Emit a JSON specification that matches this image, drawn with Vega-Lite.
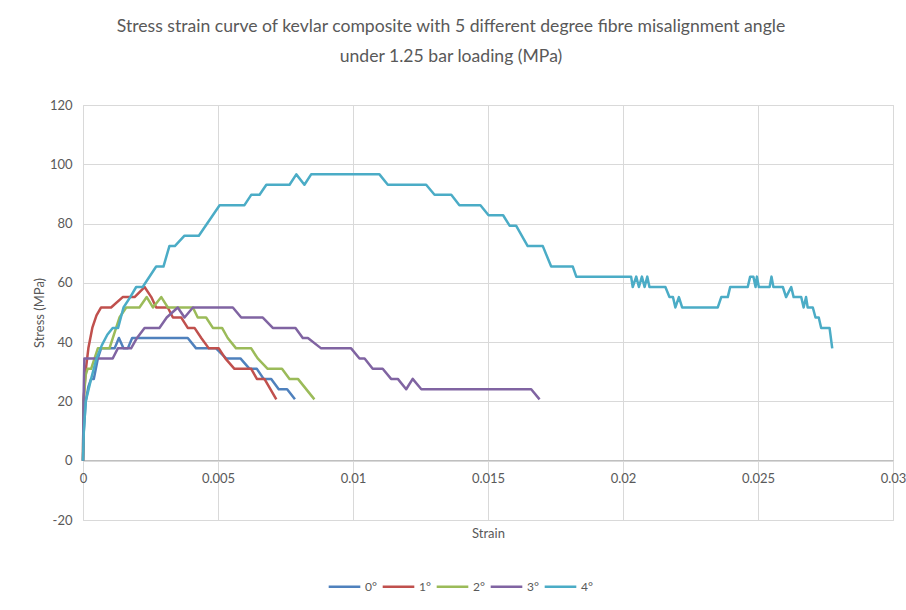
{
  "$schema": "https://vega.github.io/schema/vega-lite/v6.json",
  "width": 810,
  "height": 415,
  "autosize": {"type": "none"},
  "padding": {"left": 83, "top": 105, "right": 13, "bottom": 90},
  "background": "white",
  "title": {
    "text": ["Stress strain curve of kevlar composite with 5 different degree fibre misalignment angle", "under 1.25 bar loading (MPa)"],
    "font": "Lato",
    "fontSize": 17.6,
    "fontWeight": "normal",
    "color": "#595959",
    "anchor": "middle",
    "frame": "group",
    "dx": -37,
    "offset": 33,
    "lineHeight": 30
  },
  "config": {
    "view": {"stroke": "#d9d9d9"},
    "font": "Lato"
  },
  "data": {
    "values": [
      {"angle": "0°", "strain": 0, "stress": 0},
      {"angle": "0°", "strain": 0.00003, "stress": 10},
      {"angle": "0°", "strain": 0.0001, "stress": 20},
      {"angle": "0°", "strain": 0.0002, "stress": 25},
      {"angle": "0°", "strain": 0.0003, "stress": 27.6},
      {"angle": "0°", "strain": 0.0004, "stress": 27.6},
      {"angle": "0°", "strain": 0.00055, "stress": 34.5},
      {"angle": "0°", "strain": 0.00067, "stress": 37.9},
      {"angle": "0°", "strain": 0.00117, "stress": 37.9},
      {"angle": "0°", "strain": 0.00133, "stress": 41.4},
      {"angle": "0°", "strain": 0.0015, "stress": 37.9},
      {"angle": "0°", "strain": 0.00166, "stress": 37.9},
      {"angle": "0°", "strain": 0.00182, "stress": 41.4},
      {"angle": "0°", "strain": 0.00388, "stress": 41.4},
      {"angle": "0°", "strain": 0.00419, "stress": 37.9},
      {"angle": "0°", "strain": 0.00493, "stress": 37.9},
      {"angle": "0°", "strain": 0.0053, "stress": 34.5},
      {"angle": "0°", "strain": 0.00583, "stress": 34.5},
      {"angle": "0°", "strain": 0.00617, "stress": 31},
      {"angle": "0°", "strain": 0.00644, "stress": 31},
      {"angle": "0°", "strain": 0.00669, "stress": 27.6},
      {"angle": "0°", "strain": 0.00697, "stress": 27.6},
      {"angle": "0°", "strain": 0.00725, "stress": 24.1},
      {"angle": "0°", "strain": 0.00756, "stress": 24.1},
      {"angle": "0°", "strain": 0.00785, "stress": 20.7},

      {"angle": "1°", "strain": 0, "stress": 0},
      {"angle": "1°", "strain": 0.00002, "stress": 20},
      {"angle": "1°", "strain": 0.0001, "stress": 30.4},
      {"angle": "1°", "strain": 0.0002, "stress": 38},
      {"angle": "1°", "strain": 0.00035, "stress": 45},
      {"angle": "1°", "strain": 0.0005, "stress": 49},
      {"angle": "1°", "strain": 0.00067, "stress": 51.7},
      {"angle": "1°", "strain": 0.00104, "stress": 51.7},
      {"angle": "1°", "strain": 0.00147, "stress": 55.2},
      {"angle": "1°", "strain": 0.00191, "stress": 55.2},
      {"angle": "1°", "strain": 0.00228, "stress": 58.6},
      {"angle": "1°", "strain": 0.00253, "stress": 55.2},
      {"angle": "1°", "strain": 0.00271, "stress": 51.7},
      {"angle": "1°", "strain": 0.00314, "stress": 51.7},
      {"angle": "1°", "strain": 0.00333, "stress": 48.3},
      {"angle": "1°", "strain": 0.00364, "stress": 48.3},
      {"angle": "1°", "strain": 0.00388, "stress": 44.8},
      {"angle": "1°", "strain": 0.00413, "stress": 44.8},
      {"angle": "1°", "strain": 0.00438, "stress": 41.4},
      {"angle": "1°", "strain": 0.00466, "stress": 37.9},
      {"angle": "1°", "strain": 0.00503, "stress": 37.9},
      {"angle": "1°", "strain": 0.00527, "stress": 34.5},
      {"angle": "1°", "strain": 0.00561, "stress": 31},
      {"angle": "1°", "strain": 0.00623, "stress": 31},
      {"angle": "1°", "strain": 0.00644, "stress": 27.6},
      {"angle": "1°", "strain": 0.00672, "stress": 27.6},
      {"angle": "1°", "strain": 0.00716, "stress": 20.7},

      {"angle": "2°", "strain": 0, "stress": 0},
      {"angle": "2°", "strain": 0.00002, "stress": 20},
      {"angle": "2°", "strain": 0.0001, "stress": 29},
      {"angle": "2°", "strain": 0.00017, "stress": 31},
      {"angle": "2°", "strain": 0.0003, "stress": 31},
      {"angle": "2°", "strain": 0.00055, "stress": 37.9},
      {"angle": "2°", "strain": 0.00098, "stress": 37.9},
      {"angle": "2°", "strain": 0.00135, "stress": 48.3},
      {"angle": "2°", "strain": 0.0016, "stress": 51.7},
      {"angle": "2°", "strain": 0.00209, "stress": 51.7},
      {"angle": "2°", "strain": 0.00236, "stress": 55.2},
      {"angle": "2°", "strain": 0.00259, "stress": 51.7},
      {"angle": "2°", "strain": 0.0029, "stress": 55.2},
      {"angle": "2°", "strain": 0.00314, "stress": 51.7},
      {"angle": "2°", "strain": 0.00407, "stress": 51.7},
      {"angle": "2°", "strain": 0.00425, "stress": 48.3},
      {"angle": "2°", "strain": 0.00456, "stress": 48.3},
      {"angle": "2°", "strain": 0.00481, "stress": 44.8},
      {"angle": "2°", "strain": 0.00515, "stress": 44.8},
      {"angle": "2°", "strain": 0.00536, "stress": 41.4},
      {"angle": "2°", "strain": 0.00567, "stress": 37.9},
      {"angle": "2°", "strain": 0.00623, "stress": 37.9},
      {"angle": "2°", "strain": 0.00647, "stress": 34.5},
      {"angle": "2°", "strain": 0.00684, "stress": 31},
      {"angle": "2°", "strain": 0.00737, "stress": 31},
      {"angle": "2°", "strain": 0.00765, "stress": 27.6},
      {"angle": "2°", "strain": 0.00796, "stress": 27.6},
      {"angle": "2°", "strain": 0.00857, "stress": 20.7},

      {"angle": "3°", "strain": 0, "stress": 0},
      {"angle": "3°", "strain": 0.00002, "stress": 20},
      {"angle": "3°", "strain": 0.00005, "stress": 34.5},
      {"angle": "3°", "strain": 0.0011, "stress": 34.5},
      {"angle": "3°", "strain": 0.00129, "stress": 37.9},
      {"angle": "3°", "strain": 0.00178, "stress": 37.9},
      {"angle": "3°", "strain": 0.002, "stress": 41.4},
      {"angle": "3°", "strain": 0.00228, "stress": 44.8},
      {"angle": "3°", "strain": 0.00283, "stress": 44.8},
      {"angle": "3°", "strain": 0.0031, "stress": 48.3},
      {"angle": "3°", "strain": 0.00351, "stress": 51.7},
      {"angle": "3°", "strain": 0.00376, "stress": 48.3},
      {"angle": "3°", "strain": 0.00407, "stress": 51.7},
      {"angle": "3°", "strain": 0.00555, "stress": 51.7},
      {"angle": "3°", "strain": 0.00586, "stress": 48.3},
      {"angle": "3°", "strain": 0.00666, "stress": 48.3},
      {"angle": "3°", "strain": 0.00703, "stress": 44.8},
      {"angle": "3°", "strain": 0.00787, "stress": 44.8},
      {"angle": "3°", "strain": 0.00814, "stress": 41.4},
      {"angle": "3°", "strain": 0.00833, "stress": 41.4},
      {"angle": "3°", "strain": 0.00882, "stress": 37.9},
      {"angle": "3°", "strain": 0.00993, "stress": 37.9},
      {"angle": "3°", "strain": 0.01024, "stress": 34.5},
      {"angle": "3°", "strain": 0.01043, "stress": 34.5},
      {"angle": "3°", "strain": 0.01073, "stress": 31},
      {"angle": "3°", "strain": 0.0111, "stress": 31},
      {"angle": "3°", "strain": 0.01141, "stress": 27.6},
      {"angle": "3°", "strain": 0.01166, "stress": 27.6},
      {"angle": "3°", "strain": 0.01197, "stress": 24.1},
      {"angle": "3°", "strain": 0.01221, "stress": 27.6},
      {"angle": "3°", "strain": 0.01253, "stress": 24.1},
      {"angle": "3°", "strain": 0.0166, "stress": 24.1},
      {"angle": "3°", "strain": 0.01691, "stress": 20.7},

      {"angle": "4°", "strain": 0, "stress": 0},
      {"angle": "4°", "strain": 0.00003, "stress": 10},
      {"angle": "4°", "strain": 0.0001, "stress": 20},
      {"angle": "4°", "strain": 0.0003, "stress": 27.6},
      {"angle": "4°", "strain": 0.0005, "stress": 34.5},
      {"angle": "4°", "strain": 0.0007, "stress": 39},
      {"angle": "4°", "strain": 0.0009, "stress": 42.5},
      {"angle": "4°", "strain": 0.0011, "stress": 44.8},
      {"angle": "4°", "strain": 0.0013, "stress": 44.8},
      {"angle": "4°", "strain": 0.0015, "stress": 51.7},
      {"angle": "4°", "strain": 0.00175, "stress": 55.2},
      {"angle": "4°", "strain": 0.00197, "stress": 58.6},
      {"angle": "4°", "strain": 0.00221, "stress": 58.6},
      {"angle": "4°", "strain": 0.00271, "stress": 65.5},
      {"angle": "4°", "strain": 0.00298, "stress": 65.5},
      {"angle": "4°", "strain": 0.0032, "stress": 72.4},
      {"angle": "4°", "strain": 0.0034, "stress": 72.4},
      {"angle": "4°", "strain": 0.00376, "stress": 75.9},
      {"angle": "4°", "strain": 0.00429, "stress": 75.9},
      {"angle": "4°", "strain": 0.00506, "stress": 86.2},
      {"angle": "4°", "strain": 0.00598, "stress": 86.2},
      {"angle": "4°", "strain": 0.00623, "stress": 89.7},
      {"angle": "4°", "strain": 0.00654, "stress": 89.7},
      {"angle": "4°", "strain": 0.00679, "stress": 93.1},
      {"angle": "4°", "strain": 0.00765, "stress": 93.1},
      {"angle": "4°", "strain": 0.0079, "stress": 96.6},
      {"angle": "4°", "strain": 0.0082, "stress": 93.1},
      {"angle": "4°", "strain": 0.00845, "stress": 96.6},
      {"angle": "4°", "strain": 0.01098, "stress": 96.6},
      {"angle": "4°", "strain": 0.01129, "stress": 93.1},
      {"angle": "4°", "strain": 0.01271, "stress": 93.1},
      {"angle": "4°", "strain": 0.01302, "stress": 89.7},
      {"angle": "4°", "strain": 0.01364, "stress": 89.7},
      {"angle": "4°", "strain": 0.01394, "stress": 86.2},
      {"angle": "4°", "strain": 0.01472, "stress": 86.2},
      {"angle": "4°", "strain": 0.01502, "stress": 82.8},
      {"angle": "4°", "strain": 0.01556, "stress": 82.8},
      {"angle": "4°", "strain": 0.0158, "stress": 79.3},
      {"angle": "4°", "strain": 0.01604, "stress": 79.3},
      {"angle": "4°", "strain": 0.01647, "stress": 72.4},
      {"angle": "4°", "strain": 0.01703, "stress": 72.4},
      {"angle": "4°", "strain": 0.01734, "stress": 65.5},
      {"angle": "4°", "strain": 0.01814, "stress": 65.5},
      {"angle": "4°", "strain": 0.01827, "stress": 62.1},
      {"angle": "4°", "strain": 0.0203, "stress": 62.1},
      {"angle": "4°", "strain": 0.02036, "stress": 58.6},
      {"angle": "4°", "strain": 0.02049, "stress": 62.1},
      {"angle": "4°", "strain": 0.02059, "stress": 58.6},
      {"angle": "4°", "strain": 0.0207, "stress": 62.1},
      {"angle": "4°", "strain": 0.0208, "stress": 58.6},
      {"angle": "4°", "strain": 0.0209, "stress": 62.1},
      {"angle": "4°", "strain": 0.02098, "stress": 58.6},
      {"angle": "4°", "strain": 0.02157, "stress": 58.6},
      {"angle": "4°", "strain": 0.02172, "stress": 55.2},
      {"angle": "4°", "strain": 0.02185, "stress": 55.2},
      {"angle": "4°", "strain": 0.02194, "stress": 51.7},
      {"angle": "4°", "strain": 0.02207, "stress": 55.2},
      {"angle": "4°", "strain": 0.02219, "stress": 51.7},
      {"angle": "4°", "strain": 0.02351, "stress": 51.7},
      {"angle": "4°", "strain": 0.02364, "stress": 55.2},
      {"angle": "4°", "strain": 0.02388, "stress": 55.2},
      {"angle": "4°", "strain": 0.02397, "stress": 58.6},
      {"angle": "4°", "strain": 0.02462, "stress": 58.6},
      {"angle": "4°", "strain": 0.02471, "stress": 62.1},
      {"angle": "4°", "strain": 0.02483, "stress": 62.1},
      {"angle": "4°", "strain": 0.02491, "stress": 58.6},
      {"angle": "4°", "strain": 0.02496, "stress": 62.1},
      {"angle": "4°", "strain": 0.02503, "stress": 58.6},
      {"angle": "4°", "strain": 0.02543, "stress": 58.6},
      {"angle": "4°", "strain": 0.0255, "stress": 62.1},
      {"angle": "4°", "strain": 0.02557, "stress": 58.6},
      {"angle": "4°", "strain": 0.02592, "stress": 58.6},
      {"angle": "4°", "strain": 0.02604, "stress": 55.2},
      {"angle": "4°", "strain": 0.02623, "stress": 58.6},
      {"angle": "4°", "strain": 0.02632, "stress": 55.2},
      {"angle": "4°", "strain": 0.0266, "stress": 55.2},
      {"angle": "4°", "strain": 0.02669, "stress": 51.7},
      {"angle": "4°", "strain": 0.02678, "stress": 55.2},
      {"angle": "4°", "strain": 0.02684, "stress": 51.7},
      {"angle": "4°", "strain": 0.02703, "stress": 51.7},
      {"angle": "4°", "strain": 0.02713, "stress": 48.3},
      {"angle": "4°", "strain": 0.02725, "stress": 48.3},
      {"angle": "4°", "strain": 0.02734, "stress": 44.8},
      {"angle": "4°", "strain": 0.02765, "stress": 44.8},
      {"angle": "4°", "strain": 0.02775, "stress": 37.9}
    ]
  },
  "mark": {"type": "line", "strokeWidth": 2.5, "strokeJoin": "round"},
  "encoding": {
    "x": {
      "field": "strain",
      "type": "quantitative",
      "scale": {"domain": [0, 0.03], "nice": false, "zero": false},
      "axis": {
        "title": "Strain",
        "values": [0, 0.005, 0.01, 0.015, 0.02, 0.025, 0.03],
        "format": "~g",
        "offset": -60,
        "ticks": false,
        "domainColor": "#bfbfbf",
        "domainWidth": 1,
        "gridColor": "#d9d9d9",
        "labelColor": "#595959",
        "labelFontSize": 13,
        "labelPadding": 12,
        "labelFlush": false,
        "titleColor": "#595959",
        "titleFontSize": 13,
        "titleFontWeight": "normal",
        "titlePadding": 42
      }
    },
    "y": {
      "field": "stress",
      "type": "quantitative",
      "scale": {"domain": [-20, 120], "nice": false, "zero": false},
      "axis": {
        "title": "Stress (MPa)",
        "values": [-20, 0, 20, 40, 60, 80, 100, 120],
        "labelExpr": "replace(datum.label, '\u2212', '-')",
        "ticks": false,
        "domain": false,
        "gridColor": "#d9d9d9",
        "labelColor": "#595959",
        "labelFontSize": 13,
        "labelPadding": 11,
        "titleColor": "#595959",
        "titleFontSize": 13,
        "titleFontWeight": "normal",
        "titlePadding": 3
      }
    },
    "color": {
      "field": "angle",
      "type": "nominal",
      "scale": {
        "domain": ["0°", "1°", "2°", "3°", "4°"],
        "range": ["#4F81BD", "#C0504D", "#9BBB59", "#8064A2", "#4BACC6"]
      },
      "legend": {
        "title": null,
        "orient": "none",
        "direction": "horizontal",
        "legendX": 244,
        "legendY": 464,
        "symbolType": "stroke",
        "symbolSize": 1000,
        "symbolStrokeWidth": 2.5,
        "labelColor": "#595959",
        "labelFontSize": 12,
        "labelOffset": 3,
        "columnPadding": 0
      }
    }
  }
}
